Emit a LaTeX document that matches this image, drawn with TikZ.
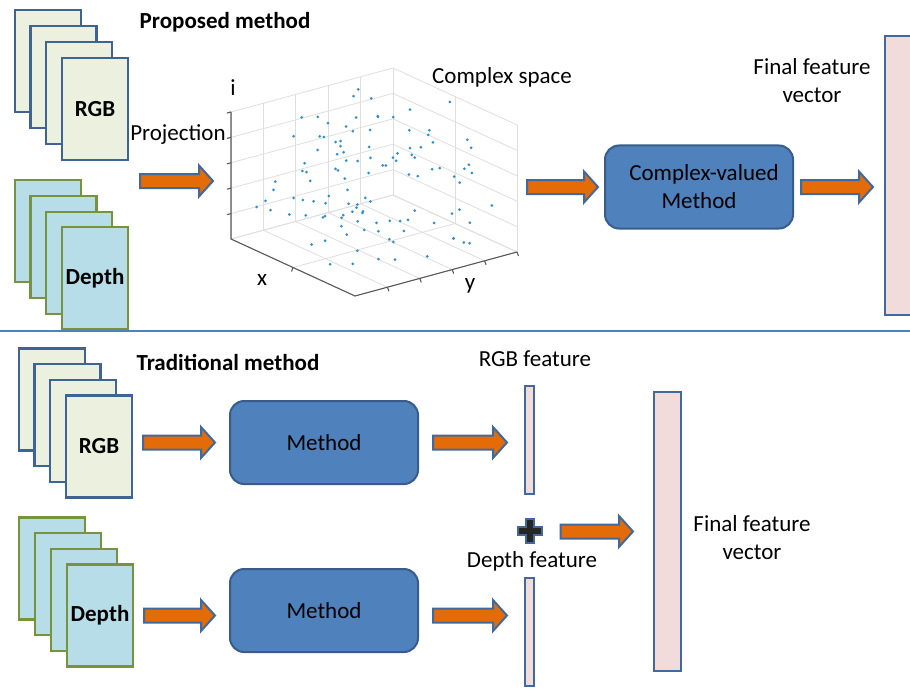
\documentclass[tikz,border=0pt]{standalone}
\usepackage{fontspec}
\setmainfont{Carlito}
\usetikzlibrary{calc}
\definecolor{rgbface}{RGB}{235,241,222}
\definecolor{rgbedge}{RGB}{62,100,150}
\definecolor{depface}{RGB}{183,222,232}
\definecolor{depedge}{RGB}{119,147,60}
\definecolor{methface}{RGB}{79,129,189}
\definecolor{methedge}{RGB}{56,93,138}
\definecolor{featface}{RGB}{242,220,219}
\definecolor{featedge}{RGB}{65,105,156}
\definecolor{arroworange}{RGB}{227,108,9}
\definecolor{dotblue}{RGB}{0,114,189}
\definecolor{gridgray}{RGB}{222,222,222}
\definecolor{axisgray}{RGB}{90,90,90}
\definecolor{plusdark}{RGB}{38,38,38}

\tikzset{
  lbl/.style={font=\fontsize{23}{28}\selectfont, align=center, inner sep=0pt},
  boldlbl/.style={font=\fontsize{23}{28}\selectfont\bfseries, inner sep=0pt},
  rgbpage/.style={draw=rgbedge, fill=rgbface, line width=2.2pt, minimum width=66pt, minimum height=102pt, inner sep=0pt, font=\fontsize{23}{28}\selectfont\bfseries},
  deppage/.style={rgbpage, draw=depedge, fill=depface},
  methbox/.style={draw=methedge, fill=methface, line width=2pt, rounded corners=14pt, minimum width=188pt, minimum height=83pt, lbl},
  featbar/.style={draw=featedge, fill=featface, line width=2pt, inner sep=0pt},
  grid3d/.style={draw=gridgray, line width=0.8pt},
  axis3d/.style={draw=axisgray, line width=1.1pt},
  blockarrow/.style={draw=featedge, fill=arroworange, line width=2pt,
    to path={let \p1=(\tikztostart), \p2=(\tikztotarget) in
      ([yshift=7pt]\p1) -- ([xshift=-14pt,yshift=7pt]\x2,\y1)
      -- ([xshift=-14pt,yshift=15.5pt]\x2,\y1) -- (\x2,\y1)
      -- ([xshift=-14pt,yshift=-15.5pt]\x2,\y1) -- ([xshift=-14pt,yshift=-7pt]\x2,\y1)
      -- ([yshift=-7pt]\p1) -- cycle}},
}

\begin{document}
\begin{tikzpicture}[x=1pt, y=-1pt]
  \useasboundingbox (0,0) rectangle (910,690);
  \clip (0,0) rectangle (910,690);

  % proposed method
  \node[rgbpage] (rgbA) at (48,61) {};
  \node[rgbpage] (rgbB) at (63.5,77) {};
  \node[rgbpage] (rgbC) at (79,93) {};
  \node[rgbpage] (rgbD) at (95,109) {RGB};
  \node[deppage] (depA) at (48,231) {};
  \node[deppage] (depB) at (63.5,247) {};
  \node[deppage] (depC) at (79,263) {};
  \node[deppage] (depD) at (95,278) {Depth};
  \node[boldlbl] (ptitle) at (225,22) {Proposed method};
  \node[lbl] (proj) at (178,135) {Projection};

  % complex space plot
  \foreach \k in {0,...,5} {
    \draw[grid3d] ({231+162*\k/5},{239-44*\k/5}) -- ++(0,-127);
    \draw[grid3d] (231,{239-127*\k/5}) -- ++(162,-44);
    \draw[grid3d] (517,{252-127*\k/5}) -- ++(-124,-57);
    \draw[grid3d] ({355+162*\k/5},{296-44*\k/5}) -- ++(-124,-57);
  }
  \foreach \k in {0,1,2} {
    \draw[grid3d] ({517-124*\k/2},{252-57*\k/2}) -- ++(0,-127);
    \draw[grid3d] ({355-124*\k/2},{296-57*\k/2}) -- ++(162,-44);
  }
  \coordinate (corner) at (355,296);
  \draw[axis3d] (231,112) -- (231,239) -- (corner) -- (517,252);
  \foreach \k in {1,...,5} {
    \draw[axis3d] (231,{239-127*\k/5}) -- ++(-4,1);
    \draw[axis3d] ({355+162*\k/5},{296-44*\k/5}) -- ++(1.5,4);
  }
  \draw[axis3d] (293,267.5) -- ++(-1.5,4);
  \pgfmathsetseed{42}
  \foreach \n in {1,...,115} {
    \pgfmathsetmacro\ra{rnd}
    \pgfmathsetmacro\rb{rnd}
    \pgfmathsetmacro\rc{rnd}
    \fill[dotblue!80] ({355-124*\ra+162*\rb},{296-57*\ra-44*\rb-127*\rc}) circle[radius=1.5pt];
  }
  \node[lbl] (ilbl) at (233,88) {i};
  \node[lbl] (xlbl) at (262,280) {x};
  \node[lbl] (ylbl) at (470,286) {y};
  \node[lbl] (cspace) at (502,77) {Complex space};
  \coordinate (plotin) at (213,181);
  \coordinate (plotout) at (527,187);

  \node[methbox] (cvm) at (699,187) {\hspace*{10pt}Complex-valued\\Method};
  \node[featbar, minimum width=44pt, minimum height=279pt] (finalT) at (907,175.5) {};
  \node[lbl] (ftext) at (812,81) {Final feature\\vector};

  \draw[blockarrow] ([xshift=11pt]rgbD.east |- plotin) to (plotin);
  \draw[blockarrow] (plotout) to ([xshift=-6pt]cvm.west);
  \draw[blockarrow] ([xshift=7pt]cvm.east) to ([xshift=-11pt]finalT.west |- cvm.east);

  % divider
  \draw[methface, line width=1.3pt] (0,331) -- (910,331);

  % traditional method
  \node[rgbpage] (trgbA) at (52,399.5) {};
  \node[rgbpage] (trgbB) at (67.5,415) {};
  \node[rgbpage] (trgbC) at (83,431) {};
  \node[rgbpage] (trgbD) at (99,446.5) {RGB};
  \node[deppage] (tdepA) at (52,568.5) {};
  \node[deppage] (tdepB) at (68,584) {};
  \node[deppage] (tdepC) at (84,600) {};
  \node[deppage] (tdepD) at (100,615.5) {Depth};
  \node[boldlbl] (ttitle) at (228,362) {Traditional method};

  \node[methbox] (meth1) at (324,442.5) {Method};
  \node[methbox] (meth2) at (324,610.5) {Method};

  \node[featbar, minimum width=9pt, minimum height=108pt] (featR) at (529.5,440) {};
  \node[featbar, minimum width=9pt, minimum height=108pt] (featD) at (529.5,632) {};
  \node[lbl] (rgbfeat) at (535,359) {RGB feature};
  \node[lbl] (depfeat) at (532,561) {Depth feature};
  \node[inner sep=0pt, minimum size=26pt] (plus) at (529.5,530.5) {};
  \draw[featedge, fill=plusdark, line width=2pt, shift={(plus)}]
    (-4,-12) -- (4,-12) -- (4,-4) -- (12,-4) -- (12,4) -- (4,4) -- (4,12)
    -- (-4,12) -- (-4,4) -- (-12,4) -- (-12,-4) -- (-4,-4) -- cycle;
  \node[featbar, minimum width=27pt, minimum height=279pt] (finalB) at (667.5,531.5) {};
  \node[lbl] (btext) at (752,538) {Final feature\\vector};

  \draw[blockarrow] ([xshift=10pt]trgbD.east |- meth1.west) to ([xshift=-14pt]meth1.west);
  \draw[blockarrow] ([xshift=10pt]tdepD.east) to ([xshift=-14pt]tdepD.east -| meth2.west);
  \draw[blockarrow] ([xshift=14pt]meth1.east) to ([xshift=-17pt]featR.west |- meth1.east);
  \draw[blockarrow] ([xshift=14pt]meth2.east |- tdepD.east) to ([xshift=-17pt]featD.west |- tdepD.east);
  \draw[blockarrow] ([xshift=18pt]plus.east |- finalB.west) to ([xshift=-20pt]finalB.west);
\end{tikzpicture}
\end{document}
